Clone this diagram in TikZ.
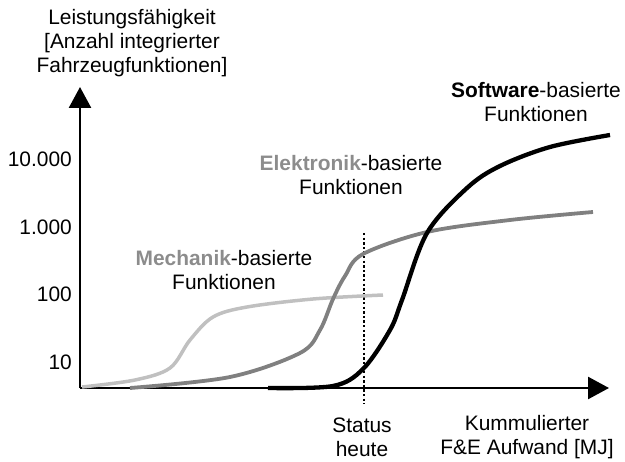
\documentclass[tikz,border=0pt]{standalone}
\usepackage{fontspec}
\setmainfont{Liberation Sans}
\usetikzlibrary{arrows.meta}
\definecolor{mechgray}{HTML}{C0C0C0}
\definecolor{elekgray}{HTML}{808080}
\definecolor{labgray}{HTML}{8C8C8C}
\tikzset{
  axis/.style={line width=2.6bp, -{Triangle[length=21bp,width=22bp]}},
  lbl/.style={align=center, font=\fontsize{21}{24}\selectfont, inner sep=0pt},
  tick/.style={anchor=east, font=\fontsize{21}{24}\selectfont, inner sep=0pt},
  curve/.style={smooth, tension=0.55, line cap=round}
}
\begin{document}
\begin{tikzpicture}[x=1bp, y=-1bp]
	\useasboundingbox (0,0) rectangle (625,462);

	% axes
	\coordinate (O) at (80,388);
	\coordinate (ytip) at (80,87);
	\coordinate (xtip) at (609,388);
	\draw[axis] (O) -- (ytip);
	\draw[axis] (O) -- (xtip);

	\node[lbl] (ylab) at (132,43) {Leistungsfähigkeit\\{}[Anzahl integrierter\\Fahrzeugfunktionen]};
	\node[lbl] (xlab) at (527,437) {Kummulierter\\F\&E Aufwand [MJ]};

	\node[tick] (t10) at (72,362) {10};
	\node[tick] (t100) at (72,294) {100};
	\node[tick] (t1000) at (72,227) {1.000};
	\node[tick] (t10000) at (72,159) {10.000};

	% status today
	\draw[line width=2.6bp, dash pattern=on 2.4bp off 2.2bp] (364,233) -- (364,404);
	\node[lbl] (status) at (362,437) {Status\\heute};

	% curves
	\draw[mechgray, line width=3.5bp] plot[curve] coordinates
	  {(82,387) (135,380) (170,368) (190,340) (213,317) (247,307) (313,299) (383,295)};
	\draw[elekgray, line width=3.8bp] plot[curve] coordinates
	  {(130,388) (230,377) (300,353) (320,330) (333,299) (345,276) (363,254) (427,232) (510,220) (593,212)};
	\draw[black, line width=4.3bp] plot[curve] coordinates
	  {(268,388) (333,386) (363,369) (390,330) (402,300) (427,233) (467,188) (500,166) (550,147) (610,135)};

	\node[lbl] (mech) at (224,270) {{\bfseries\color{labgray}Mechanik}-basierte\\Funktionen};
	\node[lbl] (elek) at (351,175) {{\bfseries\color{labgray}Elektronik}-basierte\\Funktionen};
	\node[lbl] (soft) at (536,102) {{\bfseries Software}-basierte\\Funktionen};
\end{tikzpicture}
\end{document}
